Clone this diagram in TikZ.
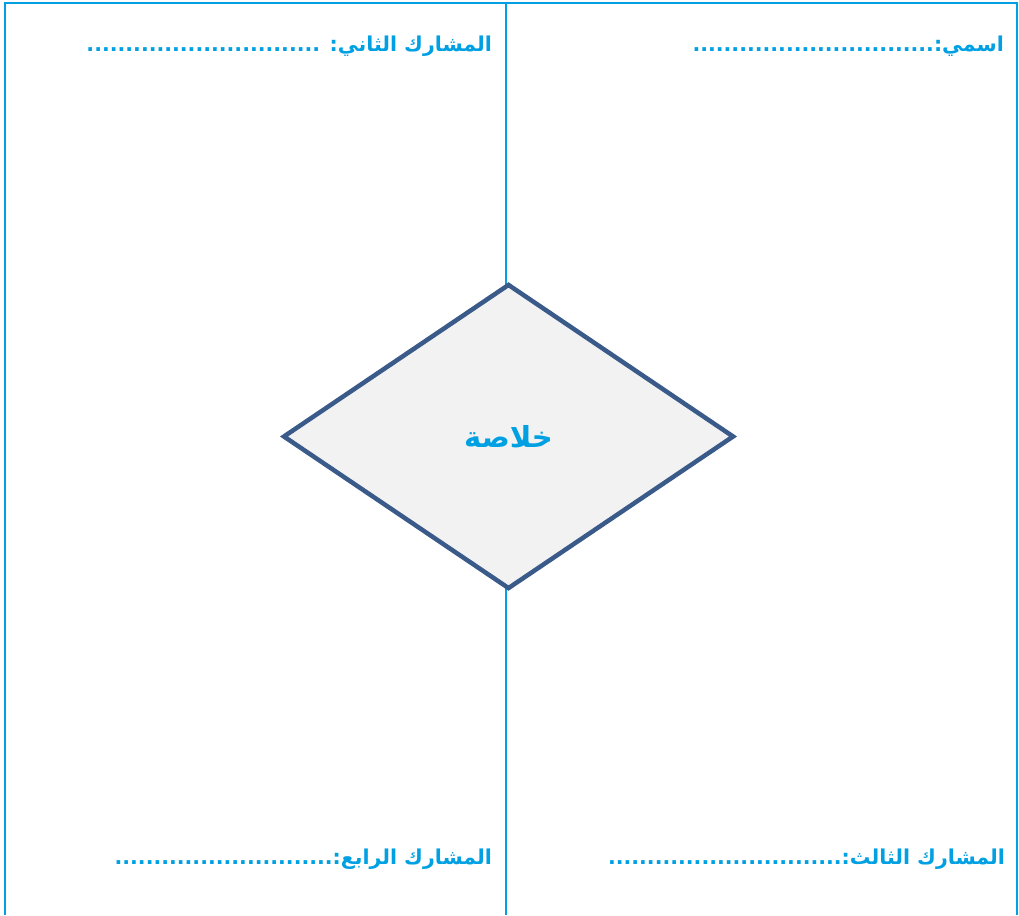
\documentclass[tikz,border=0pt]{standalone}
\usepackage{fontspec}
\usetikzlibrary{shapes.geometric}
\TeXXeTstate=1
\newfontfamily\arabicfont[Script=Arabic]{DejaVu Sans}
\definecolor{frameblue}{RGB}{0,160,227}
\definecolor{diamondedge}{RGB}{58,90,138}
\definecolor{diamondfill}{RGB}{242,242,242}
\tikzset{
  frameline/.style={draw=frameblue, line width=2pt},
  labeltext/.style={anchor=base east, inner sep=0pt, text=frameblue, font=\arabicfont\bfseries\fontsize{20.5}{24}\selectfont},
  centerbox/.style={diamond, draw=diamondedge, fill=diamondfill, line width=4.5pt, minimum width=451pt, minimum height=305pt, inner sep=0pt, text=frameblue, font=\arabicfont\bfseries\fontsize{29}{34}\selectfont}
}
\begin{document}
\begin{tikzpicture}[x=1pt,y=-1pt]
\useasboundingbox (0,0) rectangle (1019,915);
\coordinate (tl) at (5,3);
\coordinate (tr) at (1017,3);
\coordinate (bl) at (5,915);
\coordinate (br) at (1017,915);
\coordinate (tm) at (506,3);
\coordinate (bm) at (506,915);
\draw[frameline] (bl) -- (tl) -- (tr) -- (br);
\draw[frameline] (tm) -- (bm);
\node[centerbox] (summary) at (508.5,436.5) {\beginR خلاصة\endR};
\node[labeltext] (name) at (1004,52) {\beginR اسمي:...............................\endR};
\node[labeltext] (p2) at (492,52) {\beginR المشارك الثاني: ..............................\endR};
\node[labeltext] (p3) at (1005,864) {\beginR المشارك الثالث:..............................\endR};
\node[labeltext] (p4) at (492,864) {\beginR المشارك الرابع:............................\endR};
\end{tikzpicture}
\end{document}
